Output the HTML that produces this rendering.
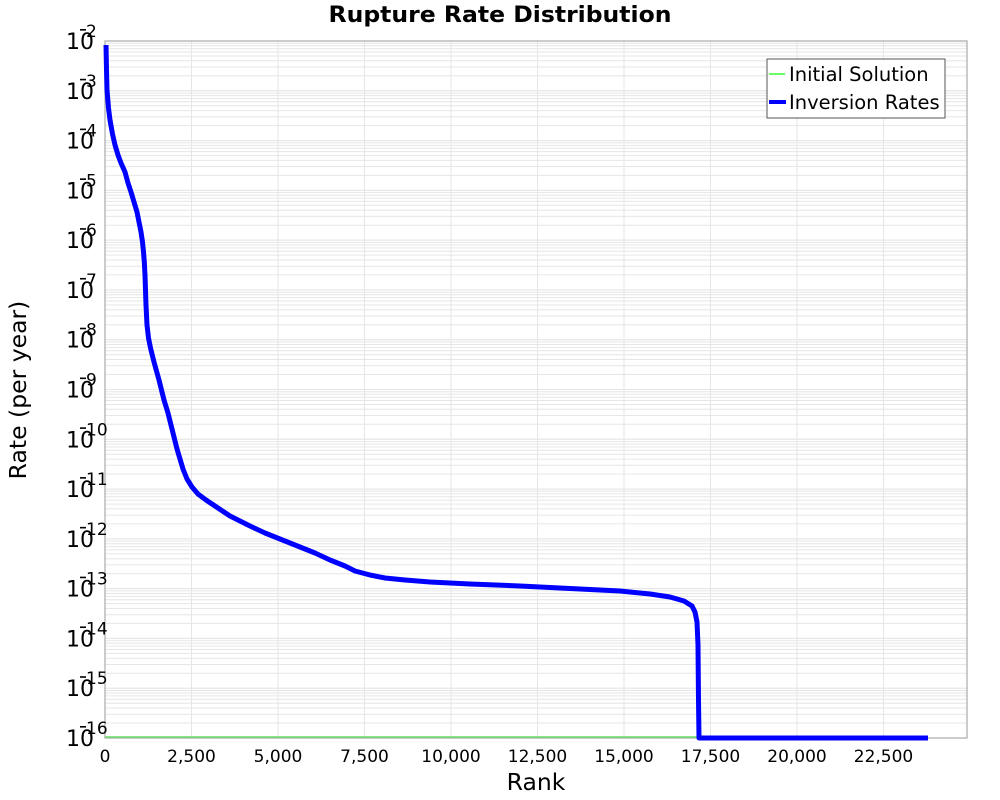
<!DOCTYPE html>
<html><head><meta charset="utf-8"><style>
body{margin:0;background:#fff}
svg{display:block;font-family:"DejaVu Sans","Liberation Sans",sans-serif}
</style></head><body>
<svg id="s" width="1000" height="800" xmlns="http://www.w3.org/2000/svg">
<rect width="1000" height="800" fill="#fff"/>
<g id="grid"></g>
<rect x="105" y="41" width="862" height="697" fill="none" stroke="#aaa" stroke-width="1.2"/>
<line x1="105" y1="737" x2="698" y2="737" stroke="#66dd66" stroke-width="1.5"/>
<polyline fill="none" stroke="#0000ff" stroke-width="5" stroke-linejoin="round" stroke-linecap="butt"
points="106,45 106.5,70 107,90 108.5,108 110,120 112.5,134 115,145 118,155 121,163 125,172 128,183 131,192 134,202 137,212 139,222 141,232 142.5,242 143.5,252 144.3,262 145,275 145.5,290 146,305 147,325 148.5,338 150.5,348 154,362 159,380 164,400 168,413 171,425 174,437 177,449 180,459 183,469 187,479 192,487 198,494 206,500 215,506 230,516 250,526 265,533 285,541 300,547 315,553 330,560 345,566 355,571 370,575 385,578 405,580 430,582 470,584 520,586 580,589 620,591 650,594 670,597 684,601 692,606 695,612 697,622 698,645 698.5,700 699,738 928,738"/>
<g id="lab" fill="#000"></g>
<g font-size="17" fill="#000" text-anchor="middle">
<text x="105" y="762">0</text><text x="191.5" y="762">2,500</text><text x="278" y="762">5,000</text><text x="364.5" y="762">7,500</text><text x="451" y="762">10,000</text><text x="537.5" y="762">12,500</text><text x="624" y="762">15,000</text><text x="710.5" y="762">17,500</text><text x="797" y="762">20,000</text><text x="883.5" y="762">22,500</text>
</g>
<text x="500" y="22" font-size="22" font-weight="bold" text-anchor="middle" textLength="343" lengthAdjust="spacingAndGlyphs">Rupture Rate Distribution</text>
<text x="536" y="790" font-size="23.5" text-anchor="middle">Rank</text>
<text transform="translate(26,390) rotate(-90)" font-size="23.5" text-anchor="middle">Rate (per year)</text>
<rect x="767" y="59" width="178" height="59" fill="#fff" stroke="#555" stroke-width="1"/>
<line x1="769" y1="74" x2="785" y2="74" stroke="#00ff00" stroke-width="1.2"/>
<line x1="769" y1="102" x2="786" y2="102" stroke="#0000ff" stroke-width="4"/>
<text x="789" y="81" font-size="19.5">Initial Solution</text>
<text x="789" y="109" font-size="19.5">Inversion Rates</text>
</svg>
<script>
var g=document.getElementById('grid'),h='';
for(var d=0;d<14;d++){for(var k=1;k<=10;k++){var y=738-(d+Math.log10(k))*49.786;if(y<41)continue;
h+='<line x1="105" x2="967" y1="'+y.toFixed(1)+'" y2="'+y.toFixed(1)+'" stroke="#e6e6e6" stroke-width="1"/>';}}
for(var i=1;i<10;i++){var x=105+i*86.5;if(x>967)break;h+='<line y1="41" y2="738" x1="'+x+'" x2="'+x+'" stroke="#e6e6e6" stroke-width="1"/>';}
g.innerHTML=h;
var l='';
for(var e=2;e<=16;e++){var y=41+(e-2)*49.786;
l+='<text x="66" y="'+(y+8)+'" font-size="22">10</text><rect x="80" y="'+(y-12)+'" width="6" height="1.6" fill="#000"/><text x="86" y="'+(y-4)+'" font-size="17">'+e+'</text>';}
document.getElementById('lab').innerHTML=l;
</script>
</body></html>
